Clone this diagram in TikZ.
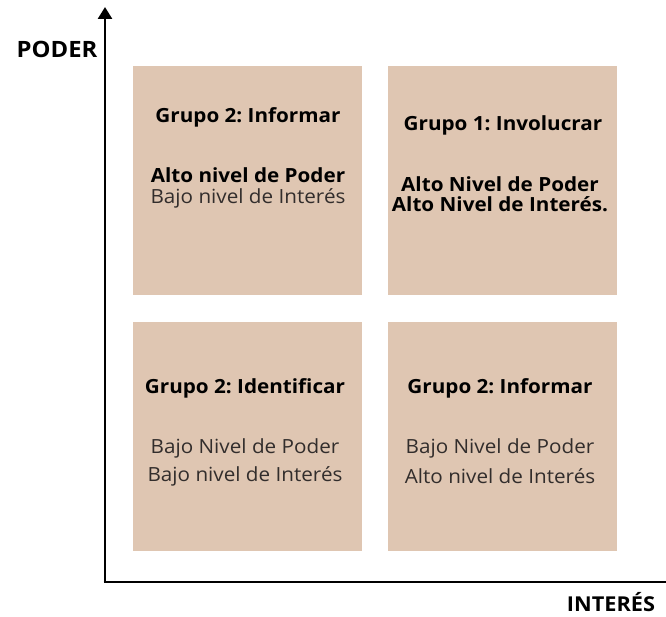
\documentclass[tikz,border=0pt]{standalone}
\usepackage{fontspec}
\setmainfont{Open Sans}[FakeStretch=1.06]
\frenchspacing
\usetikzlibrary{arrows.meta}
\definecolor{boxfill}{RGB}{223,198,178}
\definecolor{softtext}{RGB}{50,45,44}
\begin{document}
\frenchspacing
\begin{tikzpicture}[x=1pt,y=-1pt,
  quad/.style={fill=boxfill,draw=none,minimum width=229pt,minimum height=229pt,inner sep=0pt},
  head/.style={font=\fontsize{19.5}{23}\selectfont\bfseries,text=black},
  boldline/.style={font=\fontsize{19.5}{23}\selectfont\bfseries,text=black},
  plainline/.style={font=\fontsize{19.5}{23}\selectfont,text=softtext},
  axislabel/.style={font=\fontsize{20.5}{24}\selectfont\bfseries,text=black,inner sep=1pt},
  axis/.style={line width=2.6pt,-{Triangle[width=14pt,length=12pt]}}]
\useasboundingbox (0,0) rectangle (666,617);
% quadrants
\node[quad] (q1) at (247.5,180.5) {};
\node[quad] (q2) at (502.5,180.5) {};
\node[quad] (q3) at (247.5,436) {};
\node[quad] (q4) at (502.5,436) {};
% axes
\coordinate (o) at (105,582);
\coordinate (ytop) at (105,7);
\coordinate (xend) at (678,582);
\draw[axis] (o) -- (ytop);
\draw[axis] ([xshift=-1.3pt]o) -- (xend);
\node[axislabel,font=\fontsize{22.5}{26}\selectfont\bfseries,anchor=base] (poder) at (57,57.5) {PODER};
\node[axislabel,anchor=base] (interes) at (611,611.5) {INTERÉS};
% top-left
\node[head] (t1) at (248,117) {Grupo 2: Informar};
\node[boldline] (t1a) at (248,175) {Alto nivel de Poder};
\node[plainline] (t1b) at (248,198) {Bajo nivel de Interés};
% top-right
\node[head] (t2) at (503,125) {Grupo 1: Involucrar};
\node[boldline] (t2a) at (500,184) {Alto Nivel de Poder};
\node[boldline] (t2b) at (500,204) {Alto Nivel de Interés.};
% bottom-left
\node[head] (t3) at (245,388) {Grupo 2: Identificar};
\node[plainline] (t3a) at (245,448) {Bajo Nivel de Poder};
\node[plainline] (t3b) at (245,476) {Bajo nivel de Interés};
% bottom-right
\node[head] (t4) at (500,388) {Grupo 2: Informar};
\node[plainline] (t4a) at (500,448) {Bajo Nivel de Poder};
\node[plainline] (t4b) at (500,476) {Alto nivel de Interés};
\end{tikzpicture}
\end{document}
